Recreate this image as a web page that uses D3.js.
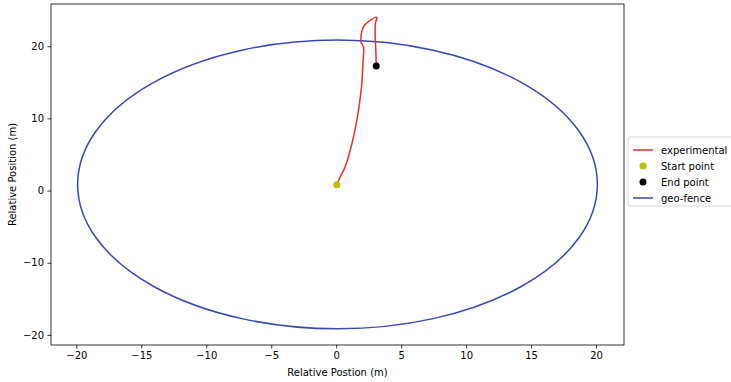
<!DOCTYPE html>
<html>
<head>
<meta charset="utf-8">
<script src="https://cdn.jsdelivr.net/npm/d3@7"></script>
<style>
  html, body { margin: 0; padding: 0; background: #fff; }
  svg { display: block; font-family: "DejaVu Sans", sans-serif; }
</style>
</head>
<body>
<div id="chart"></div>
<script>
// experimental trajectory (m)
const trackX = [0.05, 0.31, 0.69, 1.08, 1.33, 1.59, 1.79, 1.95, 2.02, 2.05, 2.1, 1.9, 1.92, 2.1, 2.48, 3.13, 3.02, 3.0, 3.05, 3.08];
const trackY = [0.76, 1.91, 3.3, 5.6, 7.45, 9.76, 12.08, 14.4, 16.2, 17.6, 19.9, 20.6, 21.5, 22.7, 23.4, 24.0, 23.2, 21.3, 19.46, 17.3];
const startPoint = [0.05, 0.8];
const endPoint = [3.08, 17.25];
// geo-fence circle: centre and radius
const fenceCenter = [0.1, 0.85];
const fenceRadius = 20;

const xTicks = [-20, -15, -10, -5, 0, 5, 10, 15, 20];
const yTicks = [-20, -10, 0, 10, 20];
const legendItems = ['experimental', 'Start point', 'End point', 'geo-fence'];

(function () {
  'use strict';
  const W = 731, H = 382;
  const m = { left: 51, right: 107, top: 4, bottom: 37 };
  const RED = '#e8312a', BLUE = '#3b46b8', YEL = '#bfbf00';

  const svg = d3.select('#chart').append('svg').attr('width', W).attr('height', H);

  const x = d3.scaleLinear().domain([-21.95, 22.15]).range([m.left, W - m.right]);
  const y = d3.scaleLinear().domain([-21.4, 25.85]).range([H - m.bottom, m.top]);

  const plot = svg.append('g');
  plot.append('defs').append('clipPath').attr('id', 'clip')
    .append('rect').attr('x', m.left).attr('y', m.top)
    .attr('width', W - m.left - m.right).attr('height', H - m.top - m.bottom);

  const inner = plot.append('g').attr('clip-path', 'url(#clip)');

  // geo-fence
  inner.append('ellipse')
    .attr('cx', x(fenceCenter[0])).attr('cy', y(fenceCenter[1]))
    .attr('rx', x(fenceCenter[0] + fenceRadius) - x(fenceCenter[0]))
    .attr('ry', y(fenceCenter[1]) - y(fenceCenter[1] + fenceRadius))
    .attr('fill', 'none').attr('stroke', BLUE).attr('stroke-width', 1.5);

  // trajectory
  const line = d3.line().x(d => x(d[0])).y(d => y(d[1])).curve(d3.curveCatmullRom);
  inner.append('path').datum(d3.zip(trackX, trackY))
    .attr('d', line).attr('fill', 'none').attr('stroke', RED).attr('stroke-width', 1.5);

  inner.append('circle').attr('cx', x(startPoint[0])).attr('cy', y(startPoint[1]))
    .attr('r', 3.5).attr('fill', YEL);
  inner.append('circle').attr('cx', x(endPoint[0])).attr('cy', y(endPoint[1]))
    .attr('r', 3.5).attr('fill', '#000');

  // axes
  const xa = svg.append('g').attr('transform', `translate(0,${H - m.bottom})`)
    .call(d3.axisBottom(x).tickValues(xTicks).tickSize(3.5).tickPadding(3.5)
      .tickFormat(d => d < 0 ? '\u2212' + Math.abs(d) : d));
  const ya = svg.append('g').attr('transform', `translate(${m.left},0)`)
    .call(d3.axisLeft(y).tickValues(yTicks).tickSize(3.5).tickPadding(3.5)
      .tickFormat(d => d < 0 ? '\u2212' + Math.abs(d) : d));
  [xa, ya].forEach(a => {
    a.select('.domain').remove();
    a.selectAll('text').style('font-family', '"DejaVu Sans", sans-serif').style('font-size', '10px').attr('fill', '#000');
    a.selectAll('line').attr('stroke', '#000').attr('stroke-width', 0.8);
  });

  svg.append('rect').attr('x', m.left).attr('y', m.top)
    .attr('width', W - m.left - m.right).attr('height', H - m.top - m.bottom)
    .attr('fill', 'none').attr('stroke', '#000').attr('stroke-width', 0.8);

  svg.append('text').attr('x', (m.left + W - m.right) / 2).attr('y', H - 6)
    .attr('text-anchor', 'middle').style('font-size', '10px').text('Relative Postion (m)');
  svg.append('text').attr('transform', `translate(16,${(m.top + H - m.bottom) / 2}) rotate(-90)`)
    .attr('text-anchor', 'middle').style('font-size', '10px').text('Relative Position (m)');

  // legend
  const lg = svg.append('g').attr('transform', 'translate(628,137)');
  lg.append('rect').attr('x', 0).attr('y', 0).attr('width', 108).attr('height', 69).attr('rx', 2)
    .attr('fill', '#fff').attr('stroke', '#ccc').attr('stroke-width', 0.8);
  legendItems.forEach((t, i) => {
    const cy = 13 + i * 16;
    if (i === 0 || i === 3) {
      lg.append('line').attr('x1', 5).attr('x2', 25).attr('y1', cy).attr('y2', cy)
        .attr('stroke', i === 0 ? RED : BLUE).attr('stroke-width', 1.5);
    } else {
      lg.append('circle').attr('cx', 15).attr('cy', cy).attr('r', 3.5).attr('fill', i === 1 ? YEL : '#000');
    }
    lg.append('text').attr('x', 33).attr('y', cy).attr('dy', '0.35em').style('font-size', '10px').text(t);
  });
})();
</script>
</body>
</html>
